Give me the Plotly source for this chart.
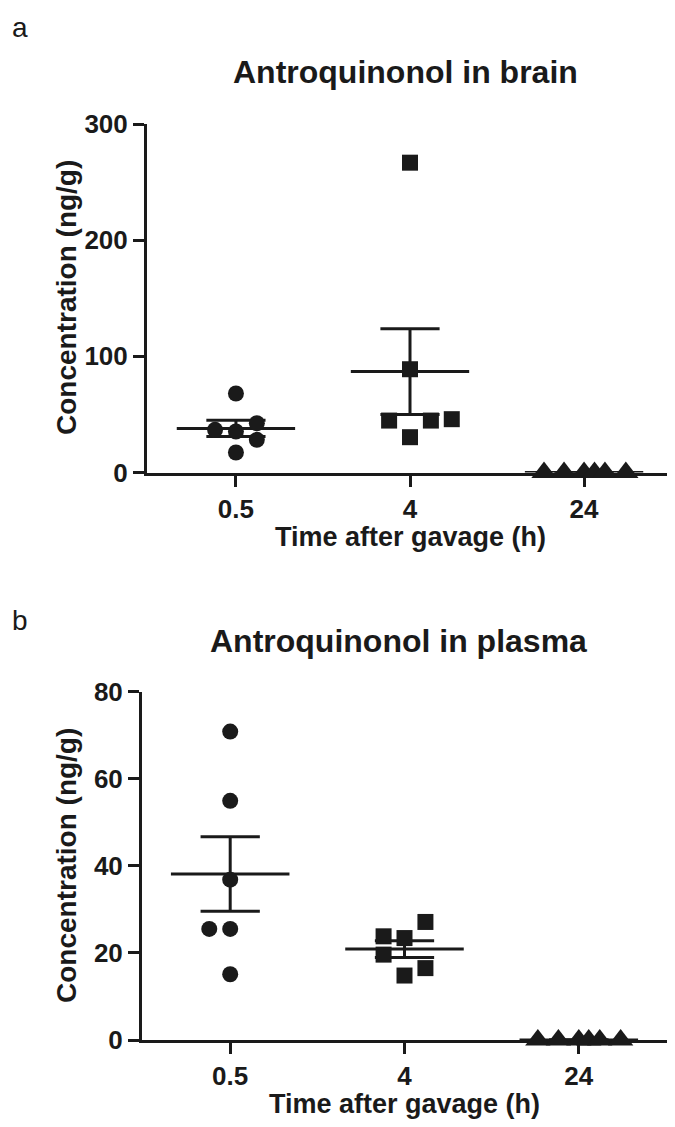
import numpy as np
import plotly.graph_objects as go

# ---------------- data ----------------
categories = ["0.5", "4", "24"]

brain_05 = [68.0, 36.7, 35.3, 42.4, 28.1, 17.2]
brain_4 = [266.7, 88.9, 44.7, 44.7, 45.9, 30.4]
brain_24 = [0, 0, 0, 0, 0, 0]

plasma_05 = [70.8, 54.9, 36.8, 25.5, 25.5, 15.1]
plasma_4 = [23.8, 23.4, 27.1, 19.6, 14.8, 16.5]
plasma_24 = [0, 0, 0, 0, 0, 0]

# horizontal scatter (jitter) offsets within each column, in category units
brain_05_off = [0, -0.12, 0, 0.12, 0.12, 0]
brain_4_off = [0, 0, -0.12, 0.12, 0.24, 0]
brain_24_off = [-0.23, -0.115, 0, 0.06, 0.12, 0.24]
plasma_05_off = [0, 0, 0, -0.12, 0, 0]
plasma_4_off = [-0.12, 0, 0.12, -0.12, 0, 0.12]
plasma_24_off = [-0.235, -0.117, 0, 0.057, 0.12, 0.24]

symbols = ["circle", "square", "triangle-up"]
sizes = [16, 16, 22]

# page body has an 8px margin, so the figure is 8px smaller than the window
OFF = 8
W, H = 675 - OFF, 1127 - OFF
FONT = "Liberation Sans"
INK = "#1a1a1a"

fig = go.Figure()


def px(x):
    return (x - OFF) / W


def py(y):
    return 1 - (y - OFF) / H


def add_panel(groups, offsets, xa, ya):
    for i, (vals, offs) in enumerate(zip(groups, offsets)):
        v = np.array(vals, dtype=float)
        m = v.mean()
        s = v.std(ddof=1) / np.sqrt(len(v))
        lx = [i - 0.34, i + 0.34, None, i, i, None,
              i - 0.17, i + 0.17, None, i - 0.17, i + 0.17]
        ly = [m, m, None, m - s, m + s, None,
              m + s, m + s, None, m - s, m - s]
        fig.add_trace(go.Scatter(
            x=lx, y=ly, mode="lines", xaxis=xa, yaxis=ya,
            line=dict(color=INK, width=3), cliponaxis=False,
            showlegend=False, hoverinfo="skip"))
        xs = [i + o for o in offs]
        fig.add_trace(go.Scatter(
            x=xs, y=vals, mode="markers", xaxis=xa, yaxis=ya,
            marker=dict(symbol=symbols[i], size=sizes[i],
                        color=INK, line=dict(width=0)),
            cliponaxis=False, showlegend=False, hoverinfo="y"))


add_panel([brain_05, brain_4, brain_24],
          [brain_05_off, brain_4_off, brain_24_off], "x", "y")
add_panel([plasma_05, plasma_4, plasma_24],
          [plasma_05_off, plasma_4_off, plasma_24_off], "x2", "y2")

tickfont = dict(family=FONT, size=26, color=INK, weight="bold")
common_x = dict(tickvals=[0, 1, 2], ticktext=categories, showline=True,
                linewidth=3, linecolor=INK, ticks="outside",
                ticklen=11, tickwidth=3, tickcolor=INK,
                showgrid=False, zeroline=False, tickfont=tickfont,
                automargin=False, fixedrange=True, layer="below traces")
common_y = dict(showline=True, linewidth=3, linecolor=INK,
                ticks="outside", ticklen=11, tickwidth=3,
                tickcolor=INK, showgrid=False, zeroline=False,
                tickfont=tickfont, automargin=False, fixedrange=True,
                layer="below traces")

fig.update_layout(
    width=W, height=H,
    margin=dict(l=0, r=0, t=0, b=0),
    paper_bgcolor="white", plot_bgcolor="white",
    xaxis=dict(domain=[px(147), px(673)], range=[-0.511, 2.511],
               anchor="y", **common_x),
    yaxis=dict(domain=[py(472.5), py(124)], range=[0, 300],
               tickvals=[0, 100, 200, 300], anchor="x", **common_y),
    xaxis2=dict(domain=[px(142), px(667)], range=[-0.506, 2.506],
                anchor="y2", **common_x),
    yaxis2=dict(domain=[py(1040), py(691.5)], range=[0, 80],
                tickvals=[0, 20, 40, 60, 80], anchor="x2", **common_y),
)


def ann(text, x, y, size, bold=True, angle=0, xanchor="center"):
    fig.add_annotation(
        text=text, x=px(x), y=py(y), xref="paper", yref="paper",
        showarrow=False, textangle=angle, xanchor=xanchor, yanchor="middle",
        font=dict(family=FONT, size=size, color=INK,
                  weight="bold" if bold else "normal"))


ann("a", 10, 27, 28, bold=False, xanchor="left")
ann("b", 10, 620, 28, bold=False, xanchor="left")
ann("Antroquinonol in brain", 406, 72, 32)
ann("Antroquinonol in plasma", 399, 641, 32)
ann("Concentration (ng/g)", 66, 298, 28, angle=-90)
ann("Concentration (ng/g)", 66, 866, 28, angle=-90)
ann("Time after gavage (h)", 410, 537, 27)
ann("Time after gavage (h)", 404, 1104, 27)

fig.write_html("out.html")
